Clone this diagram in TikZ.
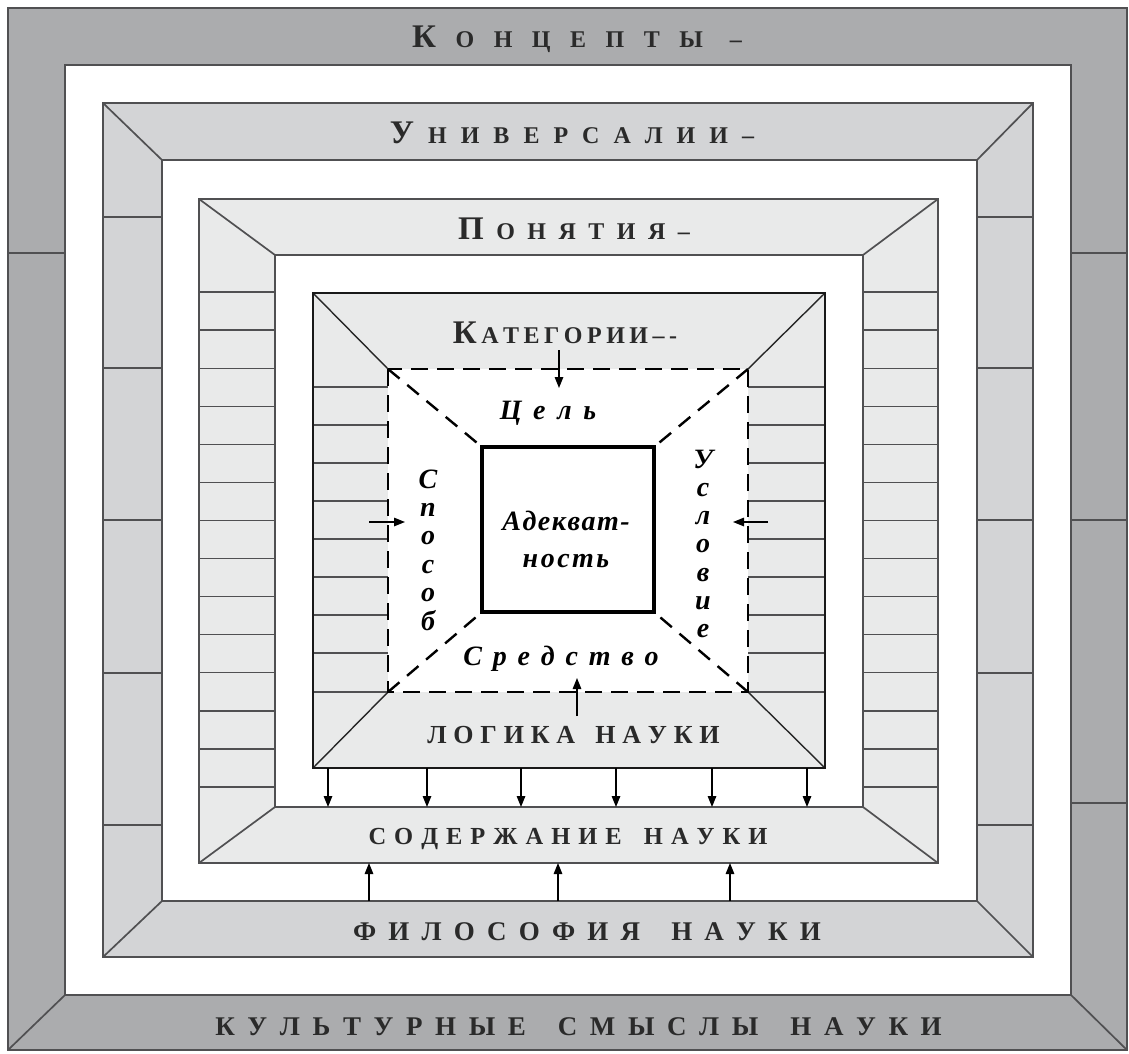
\documentclass[tikz,border=0pt]{standalone}
\usepackage{fontspec}
\setmainfont{Liberation Serif}
\usetikzlibrary{arrows.meta}
\definecolor{gA}{HTML}{ABACAE}
\definecolor{gB}{HTML}{D3D4D6}
\definecolor{gC}{HTML}{E9EAEA}
\definecolor{ln}{HTML}{505052}
\definecolor{tx}{HTML}{2A2A2A}
\makeatletter
\newcommand\spacedout[2]{\def\so@gap{#1}\@tfor\so@tok:=#2\do{\so@tok\hspace{\so@gap}}\unskip}
\makeatother
\tikzset{
  fr/.style={draw=ln, line width=1.7pt},
  lad/.style={draw=ln, line width=1.3pt},
  arr/.style={draw=black, line width=1.4pt, -{Triangle[length=11pt,width=8.5pt]}},
  dsh/.style={draw=black, line width=2.4pt, dash pattern=on 17pt off 9pt},
  headtxt/.style={anchor=base, inner sep=0pt, text=tx, font=\bfseries\fontsize{24}{24}\selectfont},
  ittxt/.style={anchor=base, inner sep=0pt, text=black, font=\bfseries\itshape\fontsize{28}{28}\selectfont},
}
\newcommand\BigL[1]{{\fontsize{33}{33}\selectfont #1}}
\begin{document}
\begin{tikzpicture}[x=1pt,y=-1pt]
\useasboundingbox (0,0) rectangle (1129,1053);
\fill[white] (0,0) rectangle (1129,1053);
% ---- outer frame (Концепты / Культурные смыслы)
\fill[gA] (8,8) rectangle (1127,1050);
\fill[white] (65,65) rectangle (1071,995);
\draw[fr] (8,8) rectangle (1127,1050);
\draw[fr] (65,65) rectangle (1071,995);
\draw[fr] (8,1050) -- (65,995) (1127,1050) -- (1071,995);
\draw[lad] (8,253) -- (65,253);
\foreach \y in {253,520,803} \draw[lad] (1071,\y) -- (1127,\y);
% ---- second frame (Универсалии / Философия)
\fill[gB] (103,103) rectangle (1033,957);
\fill[white] (162,160) rectangle (977,901);
\draw[fr] (103,103) rectangle (1033,957);
\draw[fr] (162,160) rectangle (977,901);
\draw[fr] (103,103) -- (162,160) (1033,103) -- (977,160)
          (103,957) -- (162,901) (1033,957) -- (977,901);
\foreach \y in {217,368,520,673,825} {
  \draw[lad] (103,\y) -- (162,\y);
  \draw[lad] (977,\y) -- (1033,\y);
}
% ---- third frame (Понятия / Содержание)
\fill[gC] (199,199) rectangle (938,863);
\fill[white] (275,255) rectangle (863,807);
\draw[fr] (199,199) rectangle (938,863);
\draw[fr] (275,255) rectangle (863,807);
\draw[fr] (199,199) -- (275,255) (938,199) -- (863,255)
          (199,863) -- (275,807) (938,863) -- (863,807);
\foreach \k in {0,...,13} {
  \pgfmathsetmacro\yy{292+38.08*\k}
  \draw[lad] (199,\yy) -- (275,\yy);
  \draw[lad] (863,\yy) -- (938,\yy);
}
% ---- inner box (Категории / Логика науки)
\fill[gC] (313,293) rectangle (825,768);
\fill[white] (388,369) rectangle (748,692);
\foreach \y in {387,425,463,501,539,577,615,653,692} {
  \draw[lad] (313,\y) -- (388,\y);
  \draw[lad] (748,\y) -- (825,\y);
}
\draw[line width=1.4pt, draw=black!85] (313,293) -- (388,369) (825,293) -- (748,369)
      (313,768) -- (388,692) (825,768) -- (748,692);
\draw[dsh, dash pattern=on 15pt off 10pt] (388,369) -- (482,447) (748,369) -- (654,447)
      (388,692) -- (482,612) (748,692) -- (654,612);
\draw[dsh] (388,369) rectangle (748,692);
\draw[draw=black!90, line width=2.8pt] (313,293) rectangle (825,768);
% ---- central square
\node[draw=black, line width=4pt, fill=white, minimum width=172pt, minimum height=165pt, inner sep=0pt]
  (adeq) at (568,529.5) {};
% ---- arrows
\draw[arr] (559,350) -- (559,388);
\draw[arr] (369,522) -- (405,522);
\draw[arr] (768,522) -- (733,522);
\draw[arr] (577,716) -- (577,678);
\foreach \x in {328,427,521,616,712,807} \draw[arr] (\x,768) -- (\x,807);
\foreach \x in {369,558,730} \draw[arr] (\x,901) -- (\x,863);
% ---- texts
\node[headtxt] (konc) at (577,47) {\BigL{К}\hspace{19.5pt}\spacedout{19.5pt}{ОНЦЕПТЫ}\hspace{27pt}–};
\node[headtxt] (univ) at (572,143) {\BigL{У}\hspace{14pt}\spacedout{14pt}{НИВЕРСАЛИИ–}};
\node[headtxt] (pon) at (574,239) {\BigL{П}\hspace{12.5pt}\spacedout{12.5pt}{ОНЯТИЯ–}};
\node[headtxt] (kat) at (565,343) {\BigL{К}\hspace{4.5pt}\spacedout{4.5pt}{АТЕГОРИИ–-}};
\node[headtxt, font=\bfseries\fontsize{26}{26}\selectfont] (log) at (573.5,743) {\spacedout{6.8pt}{ЛОГИКА~НАУКИ}};
\node[headtxt, font=\bfseries\fontsize{24.5}{24.5}\selectfont] (sod) at (568,844) {\spacedout{8pt}{СОДЕРЖАНИЕ~НАУКИ}};
\node[headtxt, font=\bfseries\fontsize{27}{27}\selectfont] (fil) at (587,940) {\spacedout{12.2pt}{ФИЛОСОФИЯ~НАУКИ}};
\node[headtxt, font=\bfseries\fontsize{27}{27}\selectfont] (kult) at (578.5,1035) {\spacedout{12.6pt}{КУЛЬТУРНЫЕ~СМЫСЛЫ~НАУКИ}};
\node[ittxt] (cel) at (548,419) {\spacedout{11.7pt}{Цель}};
\node[ittxt] (ad1) at (566,530) {\spacedout{1.5pt}{Адекват-}};
\node[ittxt] (ad2) at (566,567) {\spacedout{2.5pt}{ность}};
\node[ittxt] (sred) at (561,665) {\spacedout{10.8pt}{Средство}};
\foreach \c [count=\i from 0] in {С,п,о,с,о,б}
  \node[ittxt] (sp\i) at (428,{488+28.4*\i}) {\c};
\foreach \c [count=\i from 0] in {У,с,л,о,в,и,е}
  \node[ittxt] (us\i) at (703,{468+28.3*\i}) {\c};
\end{tikzpicture}
\end{document}
